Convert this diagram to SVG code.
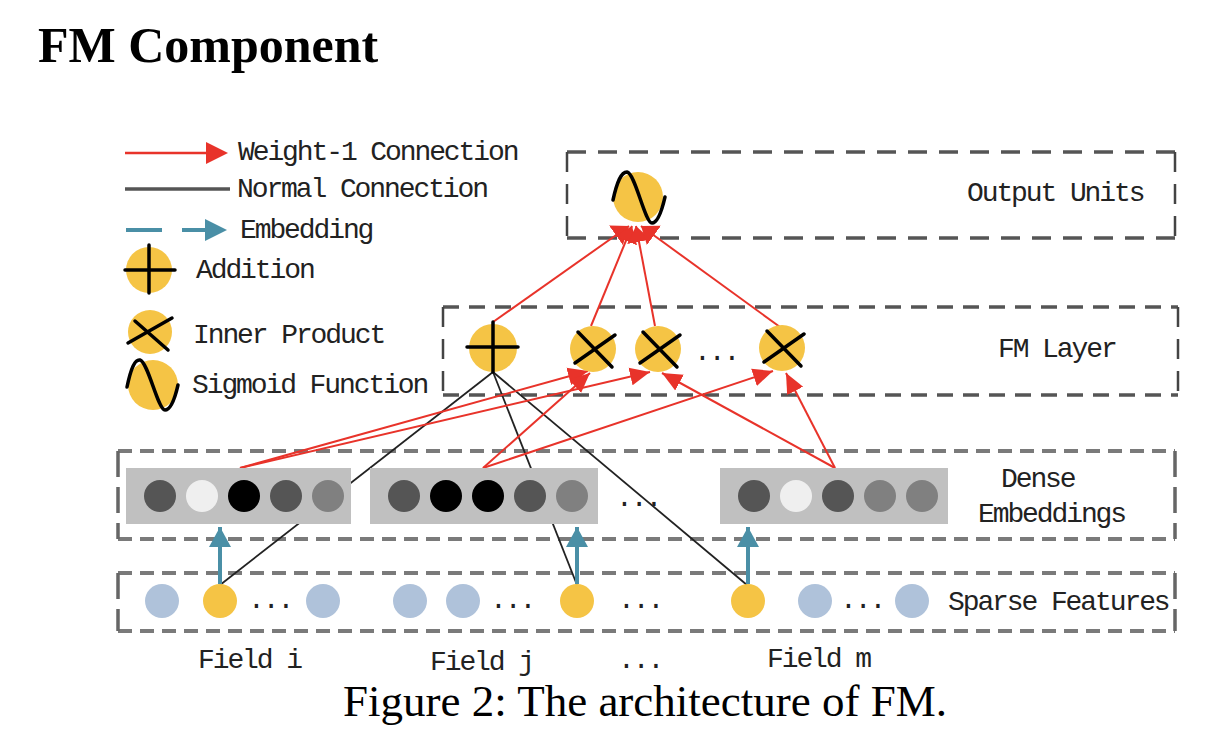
<svg xmlns="http://www.w3.org/2000/svg" width="1232" height="736" viewBox="0 0 1232 736">
<defs>
<style>
.t{font-family:"Liberation Mono",monospace;font-size:28px;letter-spacing:-2.1px;fill:#222}
.title{font-family:"Liberation Serif",serif;font-weight:bold;font-size:50px;fill:#000}
.cap{font-family:"Liberation Serif",serif;font-size:45px;fill:#000}
.red{stroke:#e8332a;stroke-width:2;fill:none}
.blk{stroke:#222;stroke-width:1.8;fill:none}
.teal{stroke:#4a8fa6;stroke-width:4;fill:none}
.yel{fill:#f5c445}
.blu{fill:#afc2da}
.sym{stroke:#000;stroke-width:3.5;fill:none;stroke-linecap:round}
.hd1{stroke:#555;stroke-width:3.5;stroke-dasharray:19 12;fill:none}
.hd2{stroke:#555;stroke-width:3.5;stroke-dasharray:16 10;fill:none}
.hd3{stroke:#7a7a7a;stroke-width:4;stroke-dasharray:14 8;fill:none}
.vd{stroke:#444;stroke-width:2.5;stroke-dasharray:20 12;fill:none}
.vd3{stroke:#666;stroke-width:3.5;stroke-dasharray:26 10;fill:none}
.emb{fill:#c0c0c0}
</style>
<marker id="ar" markerUnits="userSpaceOnUse" markerWidth="22" markerHeight="20" refX="20" refY="10" orient="auto">
<path d="M0,1 L20,10 L0,19 Z" fill="#e8332a"/>
</marker>
<marker id="ao" markerUnits="userSpaceOnUse" markerWidth="18" markerHeight="24" refX="16" refY="12" orient="auto">
<path d="M0,0 L16,12 L0,24 Z" fill="#e8332a"/>
</marker>
<marker id="at" markerUnits="userSpaceOnUse" markerWidth="22" markerHeight="22" refX="20" refY="11" orient="auto">
<path d="M0,0 L20,11 L0,22 Z" fill="#4a8fa6"/>
</marker>
</defs>
<rect width="1232" height="736" fill="#fff"/>
<text class="title" x="38" y="62">FM Component</text>

<g id="legend">
<line x1="125" y1="153" x2="210" y2="153" stroke="#e8332a" stroke-width="2.5"/>
<path d="M206,142 L228,153 L206,164 Z" fill="#e8332a"/>
<text class="t" x="238" y="160">Weight-1 Connection</text>
<line x1="125" y1="189" x2="230" y2="189" stroke="#555" stroke-width="3.5"/>
<text class="t" x="237" y="197">Normal Connection</text>
<line x1="126" y1="230" x2="162" y2="230" stroke="#4a8fa6" stroke-width="4"/>
<line x1="182" y1="230" x2="208" y2="230" stroke="#4a8fa6" stroke-width="4"/>
<path d="M205,219 L227,230 L205,241 Z" fill="#4a8fa6"/>
<text class="t" x="240" y="238">Embedding</text>
<circle class="yel" cx="149" cy="270" r="23"/>
<line class="sym" x1="125" y1="270" x2="175" y2="270"/>
<line class="sym" x1="149" y1="245" x2="149" y2="293"/>
<text class="t" x="196" y="278">Addition</text>
<circle class="yel" cx="150" cy="332" r="22"/>
<line class="sym" x1="135" y1="321" x2="168" y2="350"/>
<line class="sym" x1="128" y1="343" x2="172" y2="318"/>
<text class="t" x="193" y="343">Inner Product</text>
<circle class="yel" cx="153" cy="385" r="25"/>
<path class="sym" d="M127,387 C131,368 135,359 140,360 C148,362 158,410 165,410 C171,410 175,398 178,385"/>
<text class="t" x="192" y="393">Sigmoid Function</text>
</g>

<g id="boxes">
<path class="hd1" d="M567,152 H1175 M567,238 H1175"/>
<path class="vd" d="M567,152 V238 M1175,152 V238"/>
<path class="hd2" d="M443,307 H1178 M443,395 H1178"/>
<path class="vd" d="M443,307 V395 M1178,307 V395"/>
<path class="hd3" d="M118,451 H1175 M118,539 H1175"/>
<path class="vd3" d="M118,451 V539 M1175,451 V539"/>
<path class="hd3" d="M118,573 H1175 M118,631 H1175"/>
<path class="vd3" d="M118,573 V631 M1175,573 V631"/>
<text class="t" x="967" y="201">Output Units</text>
<text class="t" x="998" y="357">FM Layer</text>
<text class="t" x="1001" y="487">Dense</text>
<text class="t" x="978" y="522">Embeddings</text>
<text class="t" x="948" y="610">Sparse Features</text>
</g>

<g id="connectors">
<line class="blk" x1="493" y1="372" x2="220" y2="585"/>
<line class="blk" x1="493" y1="372" x2="577" y2="585"/>
<line class="blk" x1="493" y1="372" x2="747" y2="585"/>
<line class="red" x1="240" y1="468" x2="588" y2="371" marker-end="url(#ar)"/>
<line class="red" x1="240" y1="468" x2="650" y2="372" marker-end="url(#ar)"/>
<line class="red" x1="483" y1="468" x2="590" y2="373" marker-end="url(#ar)"/>
<line class="red" x1="483" y1="468" x2="773" y2="371" marker-end="url(#ar)"/>
<line class="red" x1="835" y1="468" x2="662" y2="373" marker-end="url(#ar)"/>
<line class="red" x1="835" y1="468" x2="786" y2="373" marker-end="url(#ar)"/>
<line class="red" x1="493" y1="322" x2="629" y2="226" marker-end="url(#ao)"/>
<line class="red" x1="591" y1="326" x2="632" y2="226" marker-end="url(#ao)"/>
<line class="red" x1="655" y1="326" x2="636" y2="226" marker-end="url(#ao)"/>
<line class="red" x1="780" y1="327" x2="641" y2="226" marker-end="url(#ao)"/>
<line class="teal" x1="220" y1="584" x2="220" y2="527" marker-end="url(#at)"/>
<line class="teal" x1="577" y1="584" x2="577" y2="527" marker-end="url(#at)"/>
<line class="teal" x1="748" y1="584" x2="748" y2="527" marker-end="url(#at)"/>
</g>

<g id="output">
<circle class="yel" cx="638" cy="197" r="25"/>
<path class="sym" d="M613,200 C617,182 621,172 627,172 C635,173 645,223 652,223 C658,223 662,210 665,197"/>
</g>

<g id="fm-add">
<circle class="yel" cx="493" cy="348" r="24"/>
<line class="sym" x1="467" y1="347" x2="518" y2="347"/>
<line class="sym" x1="493" y1="322" x2="493" y2="372"/>
</g>
<g id="fm-prod1">
<circle class="yel" cx="593" cy="349" r="23"/>
<line class="sym" x1="578" y1="332" x2="612" y2="367"/>
<line class="sym" x1="575" y1="363" x2="615" y2="335"/>
</g>
<g id="fm-prod2">
<circle class="yel" cx="658" cy="349" r="23"/>
<line class="sym" x1="643" y1="332" x2="677" y2="367"/>
<line class="sym" x1="640" y1="363" x2="680" y2="335"/>
</g>
<g id="fm-prod3">
<circle class="yel" cx="782" cy="348" r="23"/>
<line class="sym" x1="767" y1="331" x2="801" y2="366"/>
<line class="sym" x1="764" y1="362" x2="804" y2="334"/>
</g>
<text class="t" x="694" y="360">...</text>

<g id="emb-i">
<rect class="emb" x="126" y="468" width="225" height="56"/>
<circle cx="160" cy="496" r="16" fill="#555"/>
<circle cx="202" cy="496" r="16" fill="#efefef"/>
<circle cx="244" cy="496" r="16" fill="#000"/>
<circle cx="286" cy="496" r="16" fill="#555"/>
<circle cx="328" cy="496" r="16" fill="#808080"/>
</g>
<g id="emb-j">
<rect class="emb" x="370" y="468" width="228" height="56"/>
<circle cx="404" cy="496" r="16" fill="#555"/>
<circle cx="446" cy="496" r="16" fill="#000"/>
<circle cx="488" cy="496" r="16" fill="#000"/>
<circle cx="530" cy="496" r="16" fill="#555"/>
<circle cx="572" cy="496" r="16" fill="#808080"/>
</g>
<text class="t" x="616" y="506">...</text>
<g id="emb-m">
<rect class="emb" x="720" y="468" width="228" height="56"/>
<circle cx="754" cy="496" r="16" fill="#555"/>
<circle cx="796" cy="496" r="16" fill="#efefef"/>
<circle cx="838" cy="496" r="16" fill="#555"/>
<circle cx="880" cy="496" r="16" fill="#808080"/>
<circle cx="922" cy="496" r="16" fill="#808080"/>
</g>

<g id="sparse">
<circle class="blu" cx="162" cy="601" r="17"/>
<circle class="yel" cx="220" cy="601" r="17"/>
<text class="t" x="248" y="608">...</text>
<circle class="blu" cx="323" cy="601" r="17"/>
<circle class="blu" cx="410" cy="601" r="17"/>
<circle class="blu" cx="463" cy="601" r="17"/>
<text class="t" x="490" y="608">...</text>
<circle class="yel" cx="577" cy="601" r="17"/>
<text class="t" x="618" y="608">...</text>
<circle class="yel" cx="748" cy="601" r="17"/>
<circle class="blu" cx="815" cy="601" r="17"/>
<text class="t" x="840" y="608">...</text>
<circle class="blu" cx="912" cy="601" r="17"/>
</g>

<g id="field-labels">
<text class="t" x="198" y="668">Field i</text>
<text class="t" x="430" y="670">Field j</text>
<text class="t" x="618" y="668">...</text>
<text class="t" x="767" y="667">Field m</text>
</g>
<text class="cap" x="343" y="716">Figure 2: The architecture of FM.</text>
</svg>
